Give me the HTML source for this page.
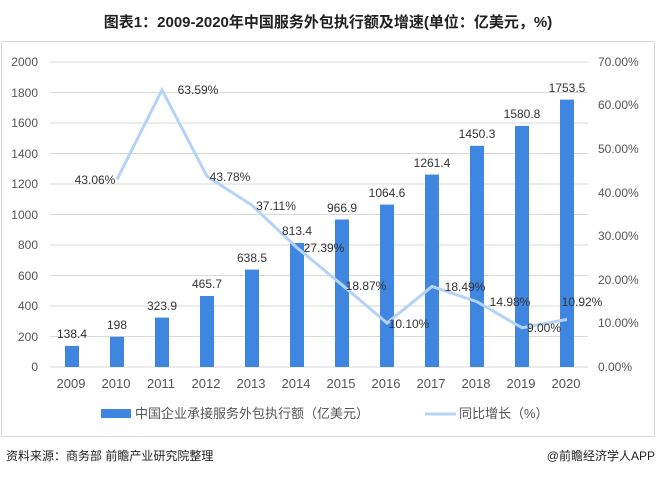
<!DOCTYPE html><html><head><meta charset="utf-8"><style>
body{margin:0;background:#fff;font-family:"Liberation Sans","Noto Sans CJK SC",sans-serif}
</style></head><body>
<svg width="657" height="475" xmlns="http://www.w3.org/2000/svg" font-family="Liberation Sans, Noto Sans CJK SC, sans-serif">
<text x="328" y="27" text-anchor="middle" font-size="15" font-weight="bold" fill="#222">图表1：2009-2020年中国服务外包执行额及增速(单位：亿美元，%)</text>
<rect x="1.5" y="41.5" width="653" height="395" fill="none" stroke="#d9d9d9"/>
<g stroke="#d9d9d9" stroke-width="1">
<line x1="50" x2="588" y1="62" y2="62"/><line x1="50" x2="588" y1="92.5" y2="92.5"/><line x1="50" x2="588" y1="123" y2="123"/><line x1="50" x2="588" y1="153.5" y2="153.5"/><line x1="50" x2="588" y1="184" y2="184"/><line x1="50" x2="588" y1="214.5" y2="214.5"/><line x1="50" x2="588" y1="245" y2="245"/><line x1="50" x2="588" y1="275.5" y2="275.5"/><line x1="50" x2="588" y1="306" y2="306"/><line x1="50" x2="588" y1="336.5" y2="336.5"/><line x1="50" x2="588" y1="367" y2="367"/>
</g>
<g font-size="12" fill="#555" text-anchor="end">
<text x="38" y="66">2000</text><text x="38" y="97">1800</text><text x="38" y="127">1600</text><text x="38" y="158">1400</text><text x="38" y="188">1200</text><text x="38" y="219">1000</text><text x="38" y="249">800</text><text x="38" y="280">600</text><text x="38" y="310">400</text><text x="38" y="341">200</text><text x="38" y="371">0</text>
</g>
<g font-size="12" fill="#555">
<text x="598" y="66">70.00%</text><text x="598" y="109">60.00%</text><text x="598" y="153">50.00%</text><text x="598" y="197">40.00%</text><text x="598" y="240">30.00%</text><text x="598" y="284">20.00%</text><text x="598" y="327">10.00%</text><text x="598" y="371">0.00%</text>
</g>
<g fill="#3f86e0">
<rect x="65" y="345.9" width="14" height="21.1"/><rect x="110" y="336.8" width="14" height="30.2"/><rect x="155" y="317.6" width="14" height="49.4"/><rect x="200" y="296" width="14" height="71"/><rect x="245" y="269.6" width="14" height="97.4"/><rect x="290" y="243" width="14" height="124"/><rect x="335" y="219.5" width="14" height="147.5"/><rect x="380" y="204.6" width="14" height="162.4"/><rect x="425" y="174.6" width="14" height="192.4"/><rect x="470" y="145.8" width="14" height="221.2"/><rect x="515" y="125.9" width="14" height="241.1"/><rect x="560" y="99.6" width="14" height="267.4"/>
</g>
<polyline fill="none" stroke="#b4d3f7" stroke-width="3" points="117,179.4 162,89.9 207,176.3 252,205.3 297,247.7 342,284.8 387,323 432,286.4 477,301.7 522,327.8 567,319.4"/>
<g font-size="12" fill="#333" text-anchor="middle">
<text x="72" y="338">138.4</text><text x="117" y="329">198</text><text x="162" y="310">323.9</text><text x="207" y="288">465.7</text><text x="252" y="262">638.5</text><text x="297" y="235">813.4</text><text x="342" y="212">966.9</text><text x="387" y="197">1064.6</text><text x="432" y="167">1261.4</text><text x="477" y="138">1450.3</text><text x="522" y="118">1580.8</text><text x="567" y="92">1753.5</text>
<text x="95" y="184">43.06%</text><text x="198" y="94">63.59%</text><text x="230" y="181">43.78%</text><text x="276" y="210">37.11%</text><text x="324" y="252">27.39%</text><text x="366" y="290">18.87%</text><text x="409" y="328">10.10%</text><text x="465" y="291">18.49%</text><text x="510" y="306">14.98%</text><text x="544" y="332">9.00%</text><text x="582" y="306">10.92%</text>
</g>
<g font-size="13" fill="#555" text-anchor="middle">
<text x="71" y="388">2009</text><text x="116" y="388">2010</text><text x="161" y="388">2011</text><text x="206" y="388">2012</text><text x="251" y="388">2013</text><text x="296" y="388">2014</text><text x="341" y="388">2015</text><text x="386" y="388">2016</text><text x="431" y="388">2017</text><text x="476" y="388">2018</text><text x="521" y="388">2019</text><text x="566" y="388">2020</text>
</g>
<rect x="101" y="409" width="30" height="9" fill="#3f86e0"/>
<text x="135" y="418" font-size="13" fill="#555">中国企业承接服务外包执行额（亿美元）</text>
<line x1="425" x2="456" y1="414" y2="414" stroke="#b4d3f7" stroke-width="3"/>
<text x="459" y="418" font-size="13" fill="#555">同比增长（%）</text>
<text x="6" y="460" font-size="12" fill="#222">资料来源：商务部 前瞻产业研究院整理</text>
<text x="655" y="460" font-size="12" fill="#222" text-anchor="end">@前瞻经济学人APP</text>
</svg>
</body></html>
